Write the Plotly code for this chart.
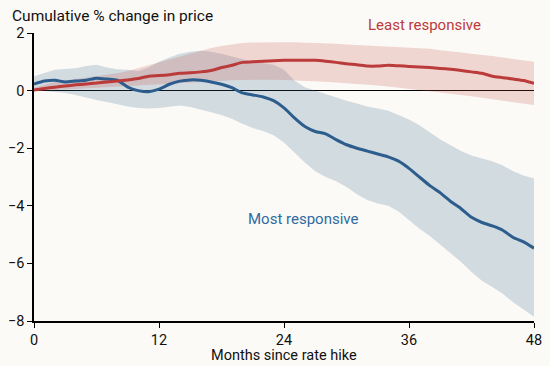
import plotly.graph_objects as go

months = list(range(49))

most_mid = [0.23, 0.33, 0.36, 0.30, 0.33, 0.36, 0.43, 0.40, 0.36, 0.12, 0.00, -0.04, 0.05, 0.22, 0.33, 0.37, 0.36, 0.30, 0.22, 0.10,
            -0.08, -0.15, -0.22, -0.35, -0.60, -0.95, -1.25, -1.42, -1.50, -1.70, -1.88, -2.00, -2.10, -2.20, -2.30, -2.45, -2.70, -3.00,
            -3.30, -3.55, -3.85, -4.10, -4.40, -4.58, -4.70, -4.85, -5.10, -5.25, -5.47]
most_hi = [0.50, 0.62, 0.72, 0.75, 0.78, 0.85, 0.90, 0.80, 0.74, 0.72, 0.68, 0.80, 1.00, 1.15, 1.28, 1.35, 1.38, 1.35, 1.28, 1.18,
           1.08, 1.00, 0.95, 0.90, 0.72, 0.35, 0.12, 0.00, -0.12, -0.25, -0.35, -0.45, -0.55, -0.62, -0.70, -0.85, -1.00, -1.20,
           -1.45, -1.70, -1.90, -2.10, -2.25, -2.35, -2.45, -2.60, -2.80, -2.95, -3.05]
most_lo = [0.02, -0.02, -0.05, -0.08, -0.15, -0.25, -0.33, -0.40, -0.48, -0.55, -0.60, -0.62, -0.60, -0.55, -0.52, -0.57, -0.65, -0.75,
           -0.85, -0.98, -1.15, -1.30, -1.40, -1.55, -1.80, -2.15, -2.50, -2.80, -3.00, -3.15, -3.35, -3.60, -3.80, -3.92, -4.00, -4.20,
           -4.50, -4.80, -5.05, -5.35, -5.65, -5.95, -6.30, -6.60, -6.82, -7.05, -7.35, -7.60, -7.85]

least_mid = [0.02, 0.07, 0.12, 0.16, 0.20, 0.23, 0.26, 0.30, 0.33, 0.37, 0.42, 0.50, 0.52, 0.55, 0.60, 0.62, 0.65, 0.70, 0.80, 0.88,
             0.98, 1.00, 1.02, 1.04, 1.05, 1.05, 1.05, 1.05, 1.02, 0.98, 0.93, 0.90, 0.85, 0.85, 0.88, 0.86, 0.84, 0.82, 0.80, 0.77,
             0.74, 0.70, 0.65, 0.60, 0.50, 0.45, 0.40, 0.35, 0.25]
least_hi = [0.10, 0.20, 0.30, 0.35, 0.40, 0.45, 0.50, 0.55, 0.60, 0.68, 0.78, 0.88, 0.98, 1.08, 1.18, 1.28, 1.38, 1.48, 1.55, 1.60,
            1.65, 1.67, 1.68, 1.68, 1.68, 1.68, 1.67, 1.66, 1.65, 1.63, 1.60, 1.58, 1.57, 1.55, 1.52, 1.50, 1.48, 1.47, 1.45, 1.40,
            1.35, 1.32, 1.28, 1.25, 1.20, 1.15, 1.10, 1.05, 1.00]
least_lo = [-0.02, 0.00, 0.02, 0.05, 0.08, 0.10, 0.12, 0.14, 0.16, 0.18, 0.20, 0.22, 0.22, 0.24, 0.26, 0.28, 0.30, 0.32, 0.34, 0.36,
            0.37, 0.38, 0.38, 0.38, 0.37, 0.36, 0.34, 0.32, 0.31, 0.28, 0.26, 0.24, 0.22, 0.18, 0.14, 0.10, 0.05, 0.00, -0.03, -0.06,
            -0.10, -0.15, -0.20, -0.25, -0.30, -0.35, -0.40, -0.45, -0.50]

x_ticks = [0, 12, 24, 36, 48]
y_ticks = [2, 0, -2, -4, -6, -8]

BLUE = "#2c5d8c"
RED = "#bb3b3b"
BG = "#fcfaf6"
FONT = "Roboto"

fig = go.Figure()
fig.add_trace(go.Scatter(x=months, y=most_hi, mode="lines", line=dict(width=0), hoverinfo="skip", showlegend=False))
fig.add_trace(go.Scatter(x=months, y=most_lo, mode="lines", line=dict(width=0), fill="tonexty",
                         fillcolor="rgba(44,93,140,0.2)", hoverinfo="skip", showlegend=False))
fig.add_trace(go.Scatter(x=months, y=least_hi, mode="lines", line=dict(width=0), hoverinfo="skip", showlegend=False))
fig.add_trace(go.Scatter(x=months, y=least_lo, mode="lines", line=dict(width=0), fill="tonexty",
                         fillcolor="rgba(196,70,66,0.2)", hoverinfo="skip", showlegend=False))
fig.add_trace(go.Scatter(x=months, y=most_mid, mode="lines", line=dict(color=BLUE, width=3, shape="spline", smoothing=0.6),
                         name="Most responsive", showlegend=False))
fig.add_trace(go.Scatter(x=months, y=least_mid, mode="lines", line=dict(color=RED, width=3, shape="spline", smoothing=0.6),
                         name="Least responsive", showlegend=False))

fig.update_layout(
    width=550, height=366,
    paper_bgcolor=BG, plot_bgcolor=BG,
    margin=dict(l=34, r=16, t=33, b=45),
    font=dict(family=FONT, size=15, color="#111111"),
    xaxis=dict(range=[0, 48], tickvals=x_ticks, ticks="outside", ticklen=5, tickwidth=1, tickcolor="#000",
               showline=True, linecolor="#000", linewidth=1.5, showgrid=False, zeroline=False, automargin=False,
               tickfont=dict(size=14.5)),
    yaxis=dict(range=[-8, 2], tickvals=y_ticks, ticks="outside", ticklen=5, tickwidth=1, tickcolor="#000",
               showline=True, linecolor="#000", linewidth=1.5, showgrid=False, automargin=False,
               zeroline=True, zerolinecolor="#000", zerolinewidth=1, tickfont=dict(size=14.5)),
    annotations=[
        dict(text="Cumulative % change in price", xref="paper", yref="paper", x=-24/500, y=1 + 17/288,
             xanchor="left", yanchor="middle", showarrow=False, font=dict(size=15.5, color="#111")),
        dict(text="Months since rate hike", xref="paper", yref="paper", x=0.5, y=-45/288,
             xanchor="center", yanchor="bottom", showarrow=False, font=dict(size=14.5, color="#111")),
        dict(text="Least responsive", xref="paper", yref="paper", x=(424 - 34) / 500, y=1 + 8/288, xanchor="center",
             yanchor="middle", showarrow=False, font=dict(size=15, color=RED)),
        dict(text="Most responsive", xref="x", yref="y", x=25.8, y=-4.45, xanchor="center", yanchor="middle",
             showarrow=False, font=dict(size=15, color="#2f6aa1")),
    ],
)

fig.write_html("out.html", config={"displayModeBar": False},
               post_script="document.body.style.margin='0';document.body.style.background='" + BG + "';")
